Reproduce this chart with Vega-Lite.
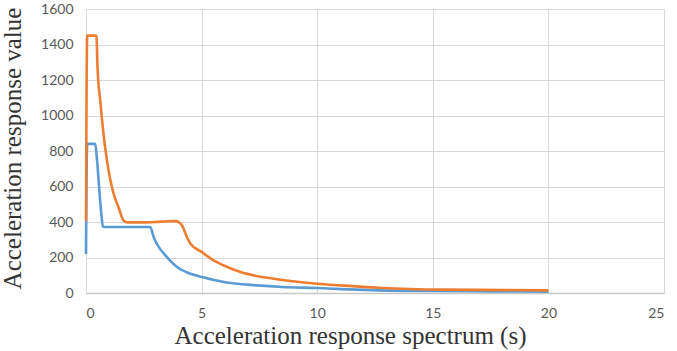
{
  "$schema": "https://vega.github.io/schema/vega-lite/v6.json",
  "width": 578,
  "height": 284,
  "autosize": {"type": "none"},
  "padding": {"left": 86, "top": 9, "right": 13, "bottom": 58},
  "background": "white",
  "config": {
    "view": {"stroke": null},
    "axis": {
      "gridColor": "#d9d9d9",
      "gridWidth": 1,
      "ticks": false,
      "labelFont": "Lato",
      "labelFontSize": 14,
      "labelColor": "#595959",
      "titleFont": "Liberation Serif",
      "titleFontSize": 25,
      "titleFontWeight": "normal",
      "titleColor": "#333333"
    }
  },
  "data": {
    "values": [
      {"t": 0, "v": 220, "s": "a"},
      {"t": 0.05, "v": 840, "s": "a"},
      {"t": 0.2, "v": 840, "s": "a"},
      {"t": 0.4, "v": 840, "s": "a"},
      {"t": 0.47, "v": 761, "s": "a"},
      {"t": 0.59, "v": 556, "s": "a"},
      {"t": 0.66, "v": 450, "s": "a"},
      {"t": 0.73, "v": 375, "s": "a"},
      {"t": 0.8, "v": 372, "s": "a"},
      {"t": 1.5, "v": 372, "s": "a"},
      {"t": 2.0, "v": 372, "s": "a"},
      {"t": 2.5, "v": 372, "s": "a"},
      {"t": 2.78, "v": 372, "s": "a"},
      {"t": 2.93, "v": 314, "s": "a"},
      {"t": 3.07, "v": 276, "s": "a"},
      {"t": 3.5, "v": 202, "s": "a"},
      {"t": 3.94, "v": 146, "s": "a"},
      {"t": 4.52, "v": 108, "s": "a"},
      {"t": 5.02, "v": 90, "s": "a"},
      {"t": 5.96, "v": 62, "s": "a"},
      {"t": 7.4, "v": 43, "s": "a"},
      {"t": 8.5, "v": 34, "s": "a"},
      {"t": 10, "v": 28, "s": "a"},
      {"t": 11, "v": 22, "s": "a"},
      {"t": 12.7, "v": 15, "s": "a"},
      {"t": 15, "v": 11, "s": "a"},
      {"t": 17.5, "v": 9, "s": "a"},
      {"t": 20, "v": 8, "s": "a"},
      {"t": 0, "v": 405, "s": "b"},
      {"t": 0.05, "v": 1450, "s": "b"},
      {"t": 0.25, "v": 1450, "s": "b"},
      {"t": 0.45, "v": 1450, "s": "b"},
      {"t": 0.5, "v": 1265, "s": "b"},
      {"t": 0.62, "v": 1079, "s": "b"},
      {"t": 0.76, "v": 892, "s": "b"},
      {"t": 0.91, "v": 743, "s": "b"},
      {"t": 1.2, "v": 557, "s": "b"},
      {"t": 1.41, "v": 482, "s": "b"},
      {"t": 1.63, "v": 407, "s": "b"},
      {"t": 1.8, "v": 398, "s": "b"},
      {"t": 2.5, "v": 398, "s": "b"},
      {"t": 3.0, "v": 400, "s": "b"},
      {"t": 3.5, "v": 404, "s": "b"},
      {"t": 3.9, "v": 405, "s": "b"},
      {"t": 4.0, "v": 400, "s": "b"},
      {"t": 4.16, "v": 379, "s": "b"},
      {"t": 4.37, "v": 314, "s": "b"},
      {"t": 4.52, "v": 277, "s": "b"},
      {"t": 5.02, "v": 230, "s": "b"},
      {"t": 5.5, "v": 185, "s": "b"},
      {"t": 5.96, "v": 155, "s": "b"},
      {"t": 6.68, "v": 118, "s": "b"},
      {"t": 8.12, "v": 80, "s": "b"},
      {"t": 10, "v": 52, "s": "b"},
      {"t": 11, "v": 43, "s": "b"},
      {"t": 12.66, "v": 30, "s": "b"},
      {"t": 15.5, "v": 19, "s": "b"},
      {"t": 20, "v": 15, "s": "b"}
    ]
  },
  "mark": {"type": "line", "interpolate": "monotone", "strokeWidth": 2.6},
  "encoding": {
    "x": {
      "field": "t",
      "type": "quantitative",
      "scale": {"domain": [0, 25], "nice": false, "zero": false},
      "axis": {
        "values": [0, 5, 10, 15, 20, 25],
        "format": "d",
        "title": "Acceleration response spectrum (s)",
        "domainColor": "#c8c8c8",
        "domainWidth": 1.5,
        "labelPadding": 13,
        "titleX": 264,
        "titleY": 50,
        "titleAlign": "center",
        "titleBaseline": "alphabetic"
      }
    },
    "y": {
      "field": "v",
      "type": "quantitative",
      "scale": {"domain": [0, 1600], "nice": false},
      "axis": {
        "values": [0, 200, 400, 600, 800, 1000, 1200, 1400, 1600],
        "format": "d",
        "title": "Acceleration response value",
        "domain": false,
        "labelPadding": 13,
        "titleX": -66,
        "titleY": 139,
        "titleAngle": -90,
        "titleAlign": "center",
        "titleBaseline": "alphabetic"
      }
    },
    "color": {
      "field": "s",
      "type": "nominal",
      "scale": {"domain": ["a", "b"], "range": ["#5B9BD5", "#ED7D31"]},
      "legend": null
    }
  }
}
